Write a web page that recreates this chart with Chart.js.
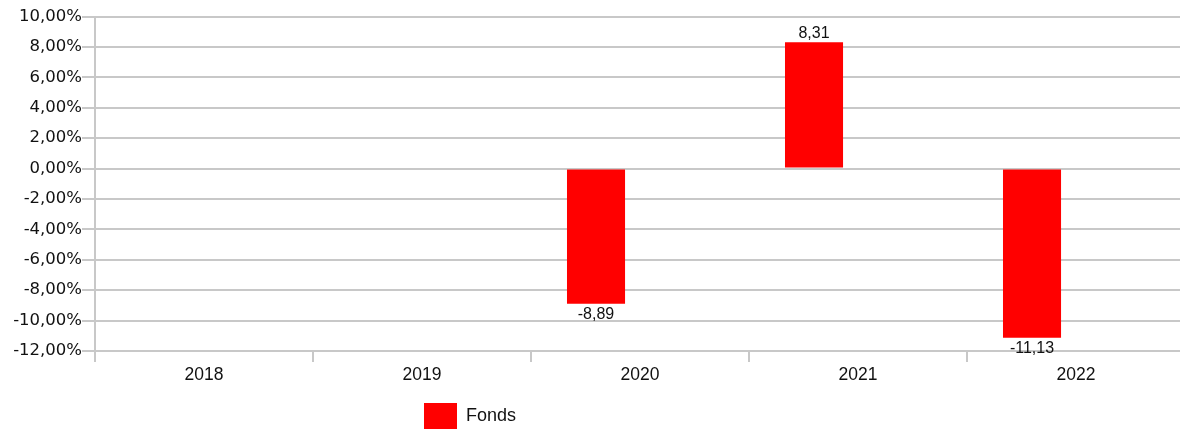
<!DOCTYPE html>
<html>
<head>
<meta charset="utf-8">
<script src="https://cdn.jsdelivr.net/npm/chart.js@4/dist/chart.umd.min.js"></script>
<style>
  html, body { margin: 0; padding: 0; background: #fff; overflow: hidden; }
  #wrap { position: relative; width: 1185px; height: 439px; }
</style>
</head>
<body>
<div id="wrap"><canvas id="c"></canvas></div>
<script>
const categories = ['2018', '2019', '2020', '2021', '2022'];
const fondsValues = [null, null, -8.89, 8.31, -11.13];
const emptyValues = [null, null, null, null, null];
const seriesName = 'Fonds';
const yMin = -12, yMax = 10, yStep = 2;

const fmtTick = v => v.toFixed(2).replace('.', ',') + '%';
const fmtLabel = v => v.toFixed(2).replace('.', ',');

const GRID = '#c8c8c8';
const TEXT = '#111';

const valueLabels = {
  id: 'valueLabels',
  afterDatasetsDraw(chart) {
    const ctx = chart.ctx;
    const meta = chart.getDatasetMeta(0);
    const data = chart.data.datasets[0].data;
    ctx.save();
    ctx.font = '16px "Liberation Sans", Arial, sans-serif';
    ctx.fillStyle = TEXT;
    ctx.textAlign = 'center';
    ctx.textBaseline = 'alphabetic';
    meta.data.forEach((el, i) => {
      const v = data[i];
      if (v === null || v === undefined) return;
      const y = v >= 0 ? el.y - 4 : el.y + 15.5;
      ctx.fillText(fmtLabel(v), el.x, y);
    });
    ctx.restore();
  }
};

const legendShift = {
  id: 'legendShift',
  afterLayout(chart) {
    const lg = chart.legend;
    if (!lg) return;
    const pad = lg.options.labels.padding;
    lg.left = 424 - pad;
  }
};

new Chart(document.getElementById('c'), {
  type: 'bar',
  data: {
    labels: categories,
    datasets: [
      { label: seriesName, data: fondsValues, backgroundColor: '#ff0000', borderWidth: 0 },
      { label: '', data: emptyValues, backgroundColor: 'rgba(0,0,0,0)', borderWidth: 0 }
    ]
  },
  options: {
    responsive: true,
    maintainAspectRatio: false,
    animation: false,
    layout: { padding: { top: 16.5, right: 0, left: 0, bottom: 0 } },
    datasets: { bar: { categoryPercentage: 0.807, barPercentage: 0.66 } },
    plugins: {
      tooltip: { enabled: false },
      legend: {
        position: 'bottom',
        align: 'start',
        labels: {
          boxWidth: 33,
          boxHeight: 26,
          padding: 14,
          color: TEXT,
          font: { family: '"Liberation Sans", Arial, sans-serif', size: 18 },
          filter: item => item.text !== ''
        }
      }
    },
    scales: {
      x: {
        offset: true,
        grid: { offset: true, drawOnChartArea: false, drawTicks: true, tickLength: 11, color: GRID, lineWidth: 2 },
        border: { display: true, color: GRID, width: 2 },
        ticks: { color: TEXT, padding: 3, font: { family: '"Liberation Sans", Arial, sans-serif', size: 17.5 } }
      },
      y: {
        min: yMin,
        max: yMax,
        afterFit(scale) { scale.width = 95; },
        ticks: {
          stepSize: yStep,
          padding: 0,
          color: TEXT,
          font: { family: '"DejaVu Sans", sans-serif', size: 16.5 },
          callback: v => fmtTick(v)
        },
        grid: { color: GRID, lineWidth: 2, tickLength: 13, drawTicks: true },
        border: { display: true, color: GRID, width: 2 }
      }
    }
  },
  plugins: [valueLabels, legendShift]
});
</script>
</body>
</html>
